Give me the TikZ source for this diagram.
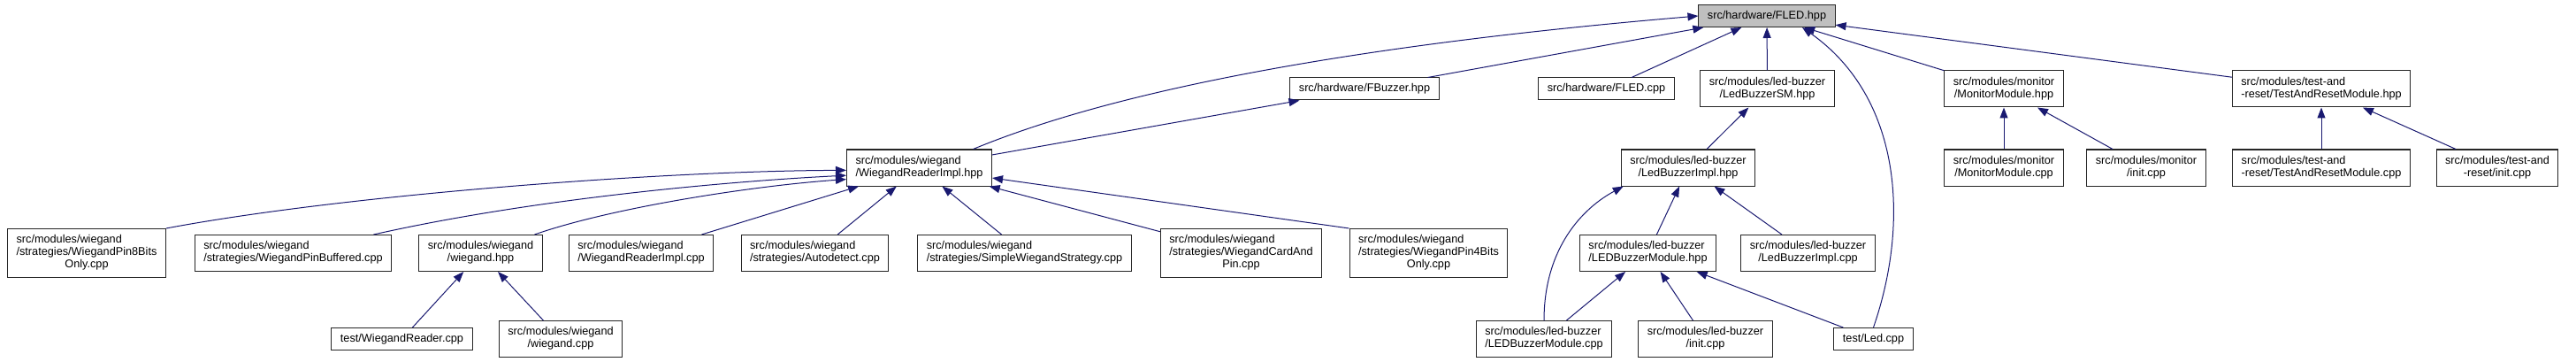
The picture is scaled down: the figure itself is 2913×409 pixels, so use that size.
\documentclass[tikz,border=0pt]{standalone}
\usepackage{fontspec}
\setmainfont{Liberation Sans}
\usepackage{tikz}
\usetikzlibrary{arrows.meta}
\usepackage{xcolor}
\definecolor{edgeblue}{RGB}{25,25,112}
\definecolor{curfill}{RGB}{191,191,191}
\newcommand{\twolines}[2]{\begin{tabular}{@{}l@{}}#1\\\multicolumn{1}{@{}c@{}}{#2}\end{tabular}}
\newcommand{\threelines}[3]{\begin{tabular}{@{}l@{}}#1\\#2\\\multicolumn{1}{@{}c@{}}{#3}\end{tabular}}

\begin{document}
\begin{tikzpicture}[x=1pt,y=-1pt,>={Triangle[length=12pt,width=9pt]},
  font=\fontsize{12.7}{14}\selectfont,
  file/.style={draw=black!85,line width=1pt,inner xsep=10pt,inner ysep=6.5pt,minimum height=25pt},
  cur/.style={file,fill=curfill},
  dep/.style={->,edgeblue,line width=1pt}]
\useasboundingbox (0,0) rectangle (2913,409);
% top
\node[cur] (fledh) at (1998,18) {src/hardware/FLED.hpp};
% second row
\node[file] (fbuzzh) at (1543,100.5) {src/hardware/FBuzzer.hpp};
\node[file] (fledc) at (1816.5,100.5) {src/hardware/FLED.cpp};
\node[file] (lbsmh) at (1998.5,100.5) {\twolines{src/modules/led-buzzer}{/LedBuzzerSM.hpp}};
\node[file] (monh) at (2266,100.5) {\twolines{src/modules/monitor}{/MonitorModule.hpp}};
\node[file] (tarh) at (2625,100.5) {\twolines{src/modules/test-and}{-reset/TestAndResetModule.hpp}};
% third row
\node[file] (wrih) at (1039.5,189.5) {\twolines{src/modules/wiegand}{/WiegandReaderImpl.hpp}};
\node[file] (lbih) at (1909,189.5) {\twolines{src/modules/led-buzzer}{/LedBuzzerImpl.hpp}};
\node[file] (monc) at (2266,189.5) {\twolines{src/modules/monitor}{/MonitorModule.cpp}};
\node[file] (moninit) at (2427,189.5) {\twolines{src/modules/monitor}{/init.cpp}};
\node[file] (tarc) at (2625,189.5) {\twolines{src/modules/test-and}{-reset/TestAndResetModule.cpp}};
\node[file] (tarinit) at (2824,189.5) {\twolines{src/modules/test-and}{-reset/init.cpp}};
% fourth row
\node[file] (w8) at (98,286) {\threelines{src/modules/wiegand}{/strategies/WiegandPin8Bits}{Only.cpp}};
\node[file] (wbuf) at (331.5,286) {\twolines{src/modules/wiegand}{/strategies/WiegandPinBuffered.cpp}};
\node[file] (wh) at (543.5,286) {\twolines{src/modules/wiegand}{/wiegand.hpp}};
\node[file] (wric) at (725,286) {\twolines{src/modules/wiegand}{/WiegandReaderImpl.cpp}};
\node[file] (wauto) at (921.5,286) {\twolines{src/modules/wiegand}{/strategies/Autodetect.cpp}};
\node[file] (wsimple) at (1158.5,286) {\twolines{src/modules/wiegand}{/strategies/SimpleWiegandStrategy.cpp}};
\node[file] (wcard) at (1403.5,286) {\threelines{src/modules/wiegand}{/strategies/WiegandCardAnd}{Pin.cpp}};
\node[file] (w4) at (1615.5,286) {\threelines{src/modules/wiegand}{/strategies/WiegandPin4Bits}{Only.cpp}};
\node[file] (lbmh) at (1863.5,286) {\twolines{src/modules/led-buzzer}{/LEDBuzzerModule.hpp}};
\node[file] (lbic) at (2044.5,286) {\twolines{src/modules/led-buzzer}{/LedBuzzerImpl.cpp}};
% bottom
\node[file] (twr) at (454.5,383) {test/WiegandReader.cpp};
\node[file] (wc) at (634,383) {\twolines{src/modules/wiegand}{/wiegand.cpp}};
\node[file] (lbmc) at (1746,383) {\twolines{src/modules/led-buzzer}{/LEDBuzzerModule.cpp}};
\node[file] (lbinit) at (1928.5,383) {\twolines{src/modules/led-buzzer}{/init.cpp}};
\node[file] (tled) at (2118.5,383) {test/Led.cpp};

% includes of FLED.hpp
\draw[dep] (wrih.19) .. controls (1290,90) and (1600,45) .. (fledh.west);
\draw[dep] (fbuzzh) -- (fledh);
\draw[dep] (fledc) -- (fledh);
\draw[dep] (lbsmh) -- (fledh);
\draw[dep] (tled.north) .. controls (2160,250) and (2150,110) .. (fledh.-18);
\draw[dep] (monh) -- (fledh);
\draw[dep] (tarh) -- (fledh);
\draw[dep] (wrih) -- (fbuzzh);
\draw[dep] (lbih) -- (lbsmh);
\draw[dep] (monc) -- (monh);
\draw[dep] (moninit) -- (monh);
\draw[dep] (tarc) -- (tarh);
\draw[dep] (tarinit) -- (tarh);
% wiegand
\draw[dep] (w8.north east) .. controls (390,220) and (750,193) .. (wrih.182);
\draw[dep] (wbuf.13) .. controls (600,225) and (820,205) .. (wrih.186);
\draw[dep] (wh.19) .. controls (690,235) and (850,210) .. (wrih.189);
\draw[dep] (wric) -- (wrih);
\draw[dep] (wauto) -- (wrih);
\draw[dep] (wsimple) -- (wrih);
\draw[dep] (wcard) -- (wrih);
\draw[dep] (w4.north west) -- (wrih);
\draw[dep] (twr) -- (wh);
\draw[dep] (wc) -- (wh);
% led-buzzer
\draw[dep] (lbmh) -- (lbih);
\draw[dep] (lbic) -- (lbih);
\draw[dep] (lbmc.north) .. controls (1746,280) and (1790,235) .. (lbih.196);
\draw[dep] (lbmc) -- (lbmh);
\draw[dep] (lbinit) -- (lbmh);
\draw[dep] (tled) -- (lbmh);
\end{tikzpicture}
\end{document}
